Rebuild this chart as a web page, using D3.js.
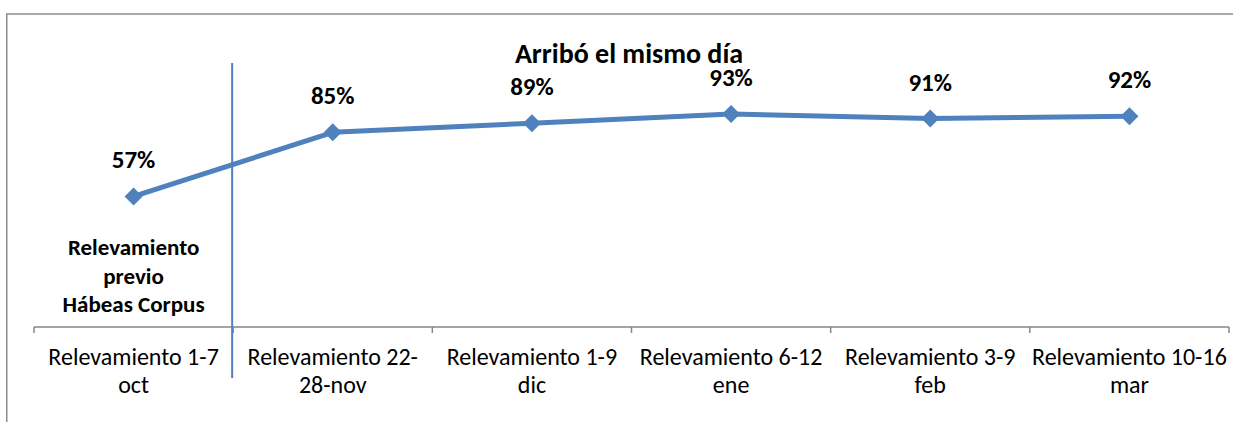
<!DOCTYPE html>
<html>
<head>
<meta charset="utf-8">
<title>Arribó el mismo día</title>
<script src="https://cdn.jsdelivr.net/npm/d3@7"></script>
<style>
  body { margin: 0; background: #fff; }
  svg { display: block; font-family: Carlito, Calibri, Lato, sans-serif; }
</style>
</head>
<body>
<div id="chart"></div>
<script>
// datos
var categorias = [
  ["Relevamiento 1-7", "oct"],
  ["Relevamiento 22-", "28-nov"],
  ["Relevamiento 1-9", "dic"],
  ["Relevamiento 6-12", "ene"],
  ["Relevamiento 3-9", "feb"],
  ["Relevamiento 10-16", "mar"]
];
var valores = [57, 85, 89, 93, 91, 92];
var nota = ["Relevamiento", "previo", "Hábeas Corpus"];
var titulo = "Arribó el mismo día";

var W = 1233, H = 422;
var azul = "#4f81bd";

var svg = d3.select("#chart").append("svg")
  .attr("width", W).attr("height", H);

// marco del grafico (se corta a la derecha y abajo)
svg.append("path")
  .attr("d", "M6.75," + (H + 5) + "V14H" + (W + 5))
  .attr("fill", "none").attr("stroke", "#8c8c8c").attr("stroke-width", 1.5);

var x = d3.scaleBand().domain(d3.range(categorias.length)).range([34, 1229]);
var y = d3.scaleLinear().domain([0, 100]).range([327, 98]);

// eje x
var ejeX = svg.append("g").attr("transform", "translate(0,327)");
ejeX.append("line").attr("x1", 34).attr("x2", 1229)
  .attr("stroke", "#868686").attr("stroke-width", 1.5);
var bordes = d3.range(categorias.length + 1).map(function(i){
  return i < categorias.length ? x(i) : x(i - 1) + x.bandwidth();
});
ejeX.selectAll(".tick").data(bordes).enter().append("line")
  .attr("x1", d => d).attr("x2", d => d).attr("y1", 0).attr("y2", 6)
  .attr("stroke", "#868686").attr("stroke-width", 1.5);

var etq = svg.selectAll(".cat").data(categorias).enter().append("text")
  .attr("class", "cat")
  .attr("text-anchor", "middle")
  .attr("font-size", 24)
  .attr("fill", "#000");
etq.each(function(d, i){
  var t = d3.select(this);
  d.forEach(function(s, j){
    t.append("tspan").attr("x", x(i) + x.bandwidth() / 2)
      .attr("y", 365 + j * 28).text(s);
  });
});

// linea vertical separadora
svg.append("line")
  .attr("x1", x(1) - 1).attr("x2", x(1) - 1).attr("y1", 63).attr("y2", 378)
  .attr("stroke", azul).attr("stroke-width", 2);

// serie
var linea = d3.line()
  .x((d, i) => x(i) + x.bandwidth() / 2)
  .y(d => y(d));
svg.append("path").datum(valores)
  .attr("d", linea)
  .attr("fill", "none").attr("stroke", azul).attr("stroke-width", 5)
  .attr("stroke-linejoin", "round");

svg.selectAll(".pt").data(valores).enter().append("path")
  .attr("class", "pt")
  .attr("d", "M0,-9L9,0L0,9L-9,0Z")
  .attr("transform", (d, i) => "translate(" + (x(i) + x.bandwidth() / 2) + "," + y(d) + ")")
  .attr("fill", azul);

svg.selectAll(".val").data(valores).enter().append("text")
  .attr("class", "val")
  .attr("x", (d, i) => x(i) + x.bandwidth() / 2)
  .attr("y", d => y(d) - 28)
  .attr("text-anchor", "middle")
  .attr("font-size", 25).attr("font-weight", "bold")
  .text(d => d + "%");

// titulo
svg.append("text").attr("x", 629).attr("y", 63)
  .attr("text-anchor", "middle")
  .attr("font-size", 28).attr("font-weight", "bold")
  .text(titulo);

// nota
svg.selectAll(".nota").data(nota).enter().append("text")
  .attr("class", "nota")
  .attr("x", x(0) + x.bandwidth() / 2)
  .attr("y", (d, i) => 255 + i * 28.5)
  .attr("text-anchor", "middle")
  .attr("font-size", 23).attr("font-weight", "bold")
  .text(d => d);
</script>
</body>
</html>
